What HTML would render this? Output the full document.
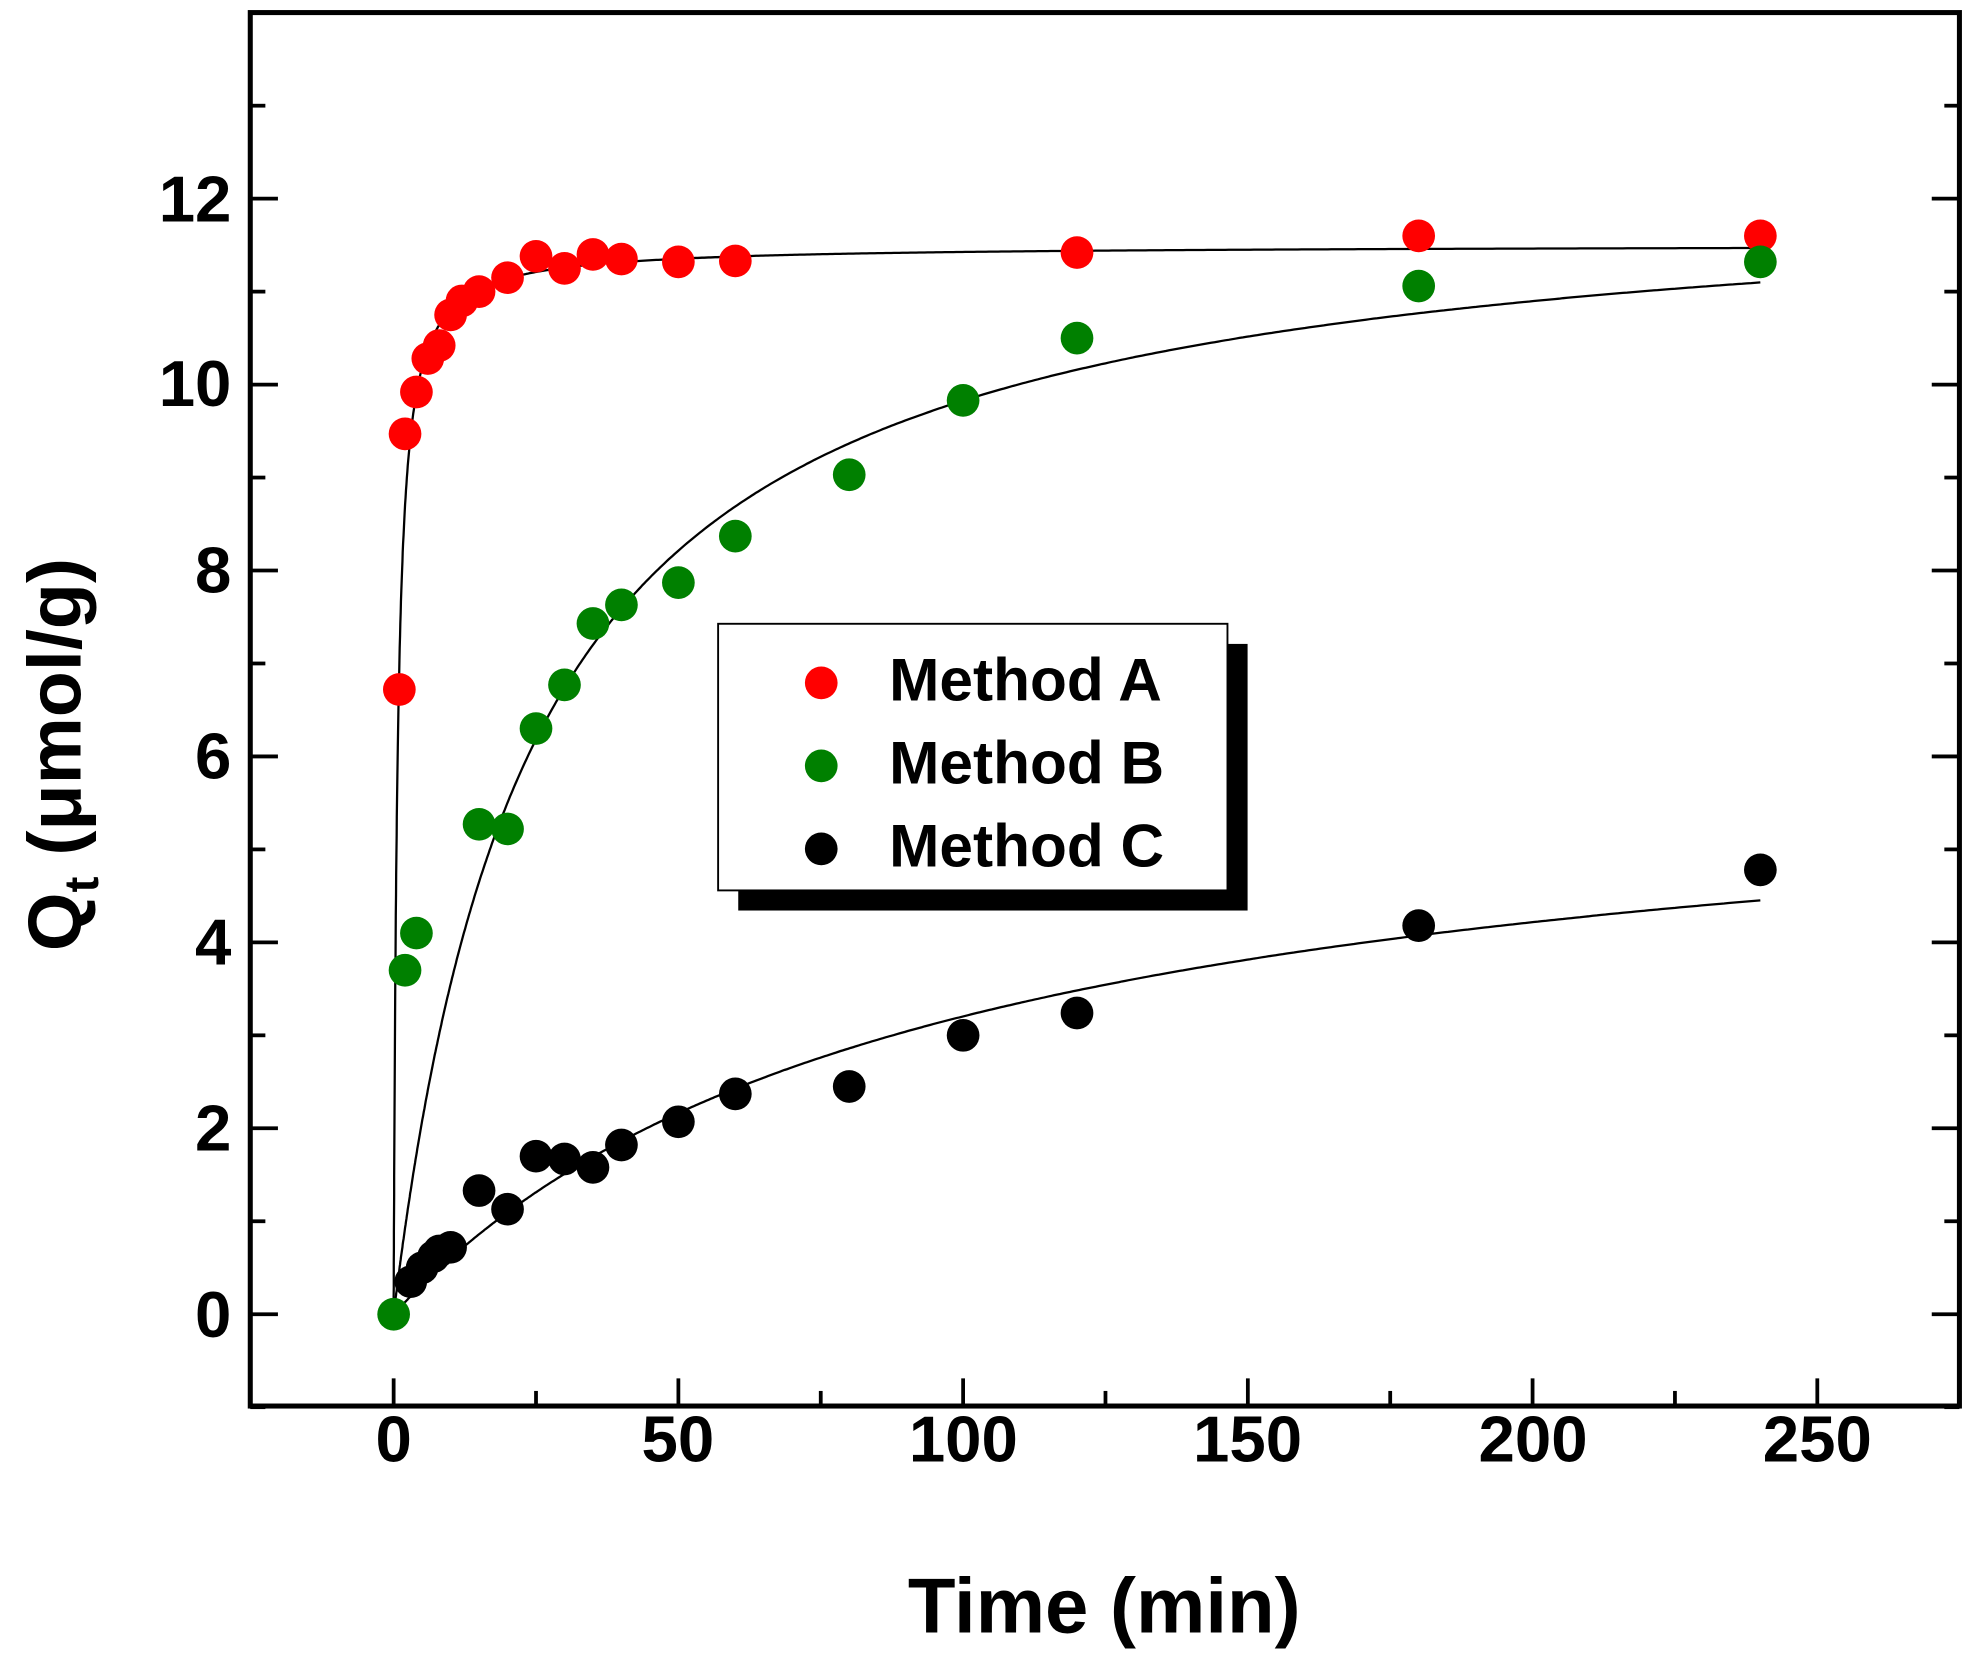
<!DOCTYPE html>
<html><head><meta charset="utf-8"><style>
html,body{margin:0;padding:0;background:#fff;}
svg{display:block;}
text{font-family:"Liberation Sans",Arial,sans-serif;font-weight:bold;fill:#000;}
</style></head><body>
<svg id="s" width="1972" height="1668" viewBox="0 0 1568 1326.3" preserveAspectRatio="none" xmlns="http://www.w3.org/2000/svg">
<rect x="0" y="0" width="1568" height="1326.3" fill="#fff"/>
<g id="ticks" stroke="#000" stroke-width="3"></g>
<g id="curves" fill="none" stroke="#000" stroke-width="1.8"></g>
<g id="pts"></g>
<rect x="199" y="10" width="1359" height="1108" fill="none" stroke="#000" stroke-width="4"/>
<g font-size="52" text-anchor="end">
<text x="184" y="1063">0</text><text x="184" y="915">2</text><text x="184" y="767">4</text>
<text x="184" y="619">6</text><text x="184" y="471">8</text><text x="184" y="323">10</text><text x="184" y="176">12</text>
</g>
<g font-size="52" text-anchor="middle">
<text x="313" y="1162">0</text><text x="539" y="1162">50</text><text x="766" y="1162">100</text>
<text x="992" y="1162">150</text><text x="1219" y="1162">200</text><text x="1445" y="1162">250</text>
</g>
<text x="878" y="1298" font-size="62" text-anchor="middle">Time (min)</text>
<text transform="translate(64,600) rotate(-90)" font-size="60" text-anchor="middle">Q<tspan font-size="38" dy="14">t</tspan><tspan dy="-14"> (μmol/g)</tspan></text>
<rect x="587" y="512" width="405" height="212" fill="#000"/>
<rect x="571" y="496" width="405" height="212" fill="#fff" stroke="#000" stroke-width="1.5"/>
<circle cx="653" cy="543" r="13" fill="#ff0000"/>
<circle cx="653" cy="609" r="13" fill="#008000"/>
<circle cx="653" cy="675" r="13" fill="#000"/>
<g font-size="48"><text x="707" y="557">Method A</text><text x="707" y="623">Method B</text><text x="707" y="689">Method C</text></g>
</svg>
<script>
function X(t){return 313+t*4.528;}function Y(v){return 1045-v*73.92;}
var tk=document.getElementById('ticks'),s='';
for(var t=-25;t<=275;t+=25){if(t<-20)continue;var L=(t%50==0)?22:12;s+='<line x1="'+X(t)+'" y1="1118" x2="'+X(t)+'" y2="'+(1118-L)+'"/>';}
for(var v=-1;v<=14;v++){var L=(v%2==0)?22:12;s+='<line x1="199" y1="'+Y(v)+'" x2="'+(199+L)+'" y2="'+Y(v)+'"/><line x1="1558" y1="'+Y(v)+'" x2="'+(1558-L)+'" y2="'+Y(v)+'"/>';}
tk.innerHTML=s;
function curve(qe,a){var p=[];for(var i=0;i<=600;i++){var t=240*Math.pow(i/600,2);p.push(X(t).toFixed(1)+','+Y(qe*a*t/(1+a*t)).toFixed(1));}return '<polyline points="'+p.join(' ')+'"/>';}
document.getElementById('curves').innerHTML=curve(11.5,1.55)+curve(12.23,0.0409)+curve(6.17,0.0108);
var A=[[1,6.72],[2,9.47],[4,9.92],[6,10.28],[8,10.42],[10,10.75],[12,10.9],[15,11.0],[20,11.15],[25,11.38],[30,11.25],[35,11.4],[40,11.35],[50,11.32],[60,11.33],[120,11.42],[180,11.6],[240,11.6]];
var B=[[0,0],[2,3.7],[4,4.1],[15,5.27],[20,5.22],[25,6.3],[30,6.77],[35,7.43],[40,7.63],[50,7.87],[60,8.37],[80,9.03],[100,9.83],[120,10.5],[180,11.06],[240,11.32]];
var C=[[3,0.35],[5,0.5],[7,0.62],[8,0.68],[10,0.72],[15,1.33],[20,1.13],[25,1.7],[30,1.67],[35,1.58],[40,1.82],[50,2.07],[60,2.37],[80,2.45],[100,3.0],[120,3.24],[180,4.18],[240,4.78]];
var h='';
[[A,'#ff0000'],[B,'#008000'],[C,'#000']].forEach(function(d){d[0].forEach(function(p){h+='<circle cx="'+X(p[0])+'" cy="'+Y(p[1])+'" r="13" fill="'+d[1]+'"/>';});});
document.getElementById('pts').innerHTML=h;
</script>
</body></html>
